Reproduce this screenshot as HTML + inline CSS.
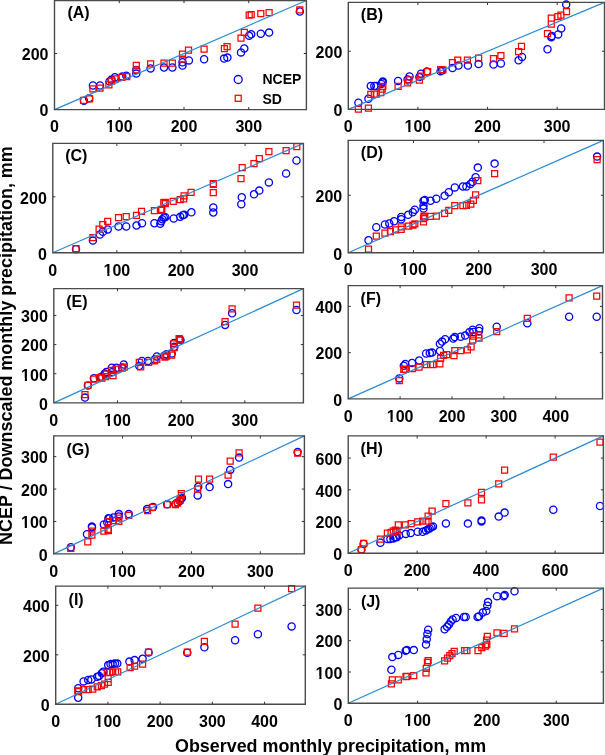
<!DOCTYPE html><html><head><meta charset="utf-8"><style>html,body{margin:0;padding:0;background:#fff;}svg{display:block;will-change:transform;}text{font-family:"Liberation Sans",sans-serif;font-weight:bold;fill:#000;}</style></head><body>
<svg width="605" height="755" viewBox="0 0 605 755">
<rect x="0" y="0" width="605" height="755" fill="#fff"/>
<g><path d="M80.3 100.8a3.6 3.6 0 1 0 7.2 0a3.6 3.6 0 1 0 -7.2 0M85.5 98.2a3.6 3.6 0 1 0 7.2 0a3.6 3.6 0 1 0 -7.2 0M89.3 85.5a3.6 3.6 0 1 0 7.2 0a3.6 3.6 0 1 0 -7.2 0M96.4 85.5a3.6 3.6 0 1 0 7.2 0a3.6 3.6 0 1 0 -7.2 0M105.9 81.5a3.6 3.6 0 1 0 7.2 0a3.6 3.6 0 1 0 -7.2 0M107.9 79.6a3.6 3.6 0 1 0 7.2 0a3.6 3.6 0 1 0 -7.2 0M111.3 77.3a3.6 3.6 0 1 0 7.2 0a3.6 3.6 0 1 0 -7.2 0M118.7 76.6a3.6 3.6 0 1 0 7.2 0a3.6 3.6 0 1 0 -7.2 0M122.7 75.8a3.6 3.6 0 1 0 7.2 0a3.6 3.6 0 1 0 -7.2 0M132.7 69.9a3.6 3.6 0 1 0 7.2 0a3.6 3.6 0 1 0 -7.2 0M132.7 73.6a3.6 3.6 0 1 0 7.2 0a3.6 3.6 0 1 0 -7.2 0M147 68.4a3.6 3.6 0 1 0 7.2 0a3.6 3.6 0 1 0 -7.2 0M160.4 67.5a3.6 3.6 0 1 0 7.2 0a3.6 3.6 0 1 0 -7.2 0M168.8 67.5a3.6 3.6 0 1 0 7.2 0a3.6 3.6 0 1 0 -7.2 0M178.9 65.6a3.6 3.6 0 1 0 7.2 0a3.6 3.6 0 1 0 -7.2 0M178.9 62.3a3.6 3.6 0 1 0 7.2 0a3.6 3.6 0 1 0 -7.2 0M185.3 60.4a3.6 3.6 0 1 0 7.2 0a3.6 3.6 0 1 0 -7.2 0M200.5 59.3a3.6 3.6 0 1 0 7.2 0a3.6 3.6 0 1 0 -7.2 0M220.5 58.6a3.6 3.6 0 1 0 7.2 0a3.6 3.6 0 1 0 -7.2 0M223.8 57.6a3.6 3.6 0 1 0 7.2 0a3.6 3.6 0 1 0 -7.2 0M237.4 52.4a3.6 3.6 0 1 0 7.2 0a3.6 3.6 0 1 0 -7.2 0M240.7 48.5a3.6 3.6 0 1 0 7.2 0a3.6 3.6 0 1 0 -7.2 0M245.6 35.8a3.6 3.6 0 1 0 7.2 0a3.6 3.6 0 1 0 -7.2 0M247.6 34.3a3.6 3.6 0 1 0 7.2 0a3.6 3.6 0 1 0 -7.2 0M257.2 33.8a3.6 3.6 0 1 0 7.2 0a3.6 3.6 0 1 0 -7.2 0M265.5 32.6a3.6 3.6 0 1 0 7.2 0a3.6 3.6 0 1 0 -7.2 0M296.2 11.5a3.6 3.6 0 1 0 7.2 0a3.6 3.6 0 1 0 -7.2 0" fill="none" stroke="#0000ff" stroke-width="1.3"/><path d="M80.6 97.4h6v6h-6zM86.6 95.9h6v6h-6zM89.9 85.9h6v6h-6zM97 85h6v6h-6zM105.9 81.8h6v6h-6zM108.5 78h6v6h-6zM112.2 75.8h6v6h-6zM118.9 74.3h6v6h-6zM123.8 73.6h6v6h-6zM133.3 62.4h6v6h-6zM133.3 66.9h6v6h-6zM147.6 60.9h6v6h-6zM161 60.1h6v6h-6zM169.4 60.1h6v6h-6zM179.5 56h6v6h-6zM179.5 51.1h6v6h-6zM185.5 47.1h6v6h-6zM201.1 46.2h6v6h-6zM221.4 45.7h6v6h-6zM224.1 43.5h6v6h-6zM238 35.2h6v6h-6zM241.3 29.3h6v6h-6zM246.2 12.1h6v6h-6zM248.2 11.7h6v6h-6zM257.8 10.7h6v6h-6zM266.1 9.7h6v6h-6zM296.8 6.8h6v6h-6z" fill="none" stroke="#ff0000" stroke-width="1.25"/><line x1="54.5" y1="109.6" x2="306.4" y2="0.5" stroke="#2c8ad2" stroke-width="1.2"/><path d="M54.5 0.5H306.4V109.6H54.5Z" stroke="#4a4a4a" stroke-width="1.4" fill="none"/><path d="M119.26 109.6v-2.6M119.26 0.5v2.6M184.01 109.6v-2.6M184.01 0.5v2.6M248.77 109.6v-2.6M248.77 0.5v2.6M54.5 53.51h2.6M306.4 53.51h-2.6" stroke="#333" stroke-width="1" fill="none"/><text x="54.5" y="132.3" font-size="16" text-anchor="middle">0</text><text x="119.26" y="132.3" font-size="16" text-anchor="middle">100</text><rect x="106.42" y="129.77" width="3.23" height="3.23" fill="#fff"/><rect x="111.84" y="129.77" width="3.02" height="3.23" fill="#fff"/><text x="184.01" y="132.3" font-size="16" text-anchor="middle">200</text><text x="248.77" y="132.3" font-size="16" text-anchor="middle">300</text><text x="48.5" y="116.4" font-size="16" text-anchor="end">0</text><text x="48.5" y="60.31" font-size="16" text-anchor="end">200</text><text x="67.4" y="17.9" font-size="16">(A)</text></g>
<g><path d="M354.8 102.7a3.6 3.6 0 1 0 7.2 0a3.6 3.6 0 1 0 -7.2 0M364.8 98.8a3.6 3.6 0 1 0 7.2 0a3.6 3.6 0 1 0 -7.2 0M367.2 85.9a3.6 3.6 0 1 0 7.2 0a3.6 3.6 0 1 0 -7.2 0M370.7 85.9a3.6 3.6 0 1 0 7.2 0a3.6 3.6 0 1 0 -7.2 0M372.7 85.9a3.6 3.6 0 1 0 7.2 0a3.6 3.6 0 1 0 -7.2 0M377.7 83.9a3.6 3.6 0 1 0 7.2 0a3.6 3.6 0 1 0 -7.2 0M378.7 82.4a3.6 3.6 0 1 0 7.2 0a3.6 3.6 0 1 0 -7.2 0M379.2 81.4a3.6 3.6 0 1 0 7.2 0a3.6 3.6 0 1 0 -7.2 0M394.5 80.9a3.6 3.6 0 1 0 7.2 0a3.6 3.6 0 1 0 -7.2 0M404 79.4a3.6 3.6 0 1 0 7.2 0a3.6 3.6 0 1 0 -7.2 0M405.9 76.4a3.6 3.6 0 1 0 7.2 0a3.6 3.6 0 1 0 -7.2 0M415.8 77.1a3.6 3.6 0 1 0 7.2 0a3.6 3.6 0 1 0 -7.2 0M417.3 73.7a3.6 3.6 0 1 0 7.2 0a3.6 3.6 0 1 0 -7.2 0M423.2 71.6a3.6 3.6 0 1 0 7.2 0a3.6 3.6 0 1 0 -7.2 0M437 71.2a3.6 3.6 0 1 0 7.2 0a3.6 3.6 0 1 0 -7.2 0M438.5 70.5a3.6 3.6 0 1 0 7.2 0a3.6 3.6 0 1 0 -7.2 0M448.9 68a3.6 3.6 0 1 0 7.2 0a3.6 3.6 0 1 0 -7.2 0M454.9 65.6a3.6 3.6 0 1 0 7.2 0a3.6 3.6 0 1 0 -7.2 0M464.3 65.6a3.6 3.6 0 1 0 7.2 0a3.6 3.6 0 1 0 -7.2 0M475 64.1a3.6 3.6 0 1 0 7.2 0a3.6 3.6 0 1 0 -7.2 0M489.9 64.6a3.6 3.6 0 1 0 7.2 0a3.6 3.6 0 1 0 -7.2 0M497.3 63.5a3.6 3.6 0 1 0 7.2 0a3.6 3.6 0 1 0 -7.2 0M515 60.3a3.6 3.6 0 1 0 7.2 0a3.6 3.6 0 1 0 -7.2 0M518.4 57a3.6 3.6 0 1 0 7.2 0a3.6 3.6 0 1 0 -7.2 0M543.9 49.3a3.6 3.6 0 1 0 7.2 0a3.6 3.6 0 1 0 -7.2 0M547.7 37.2a3.6 3.6 0 1 0 7.2 0a3.6 3.6 0 1 0 -7.2 0M548.2 36a3.6 3.6 0 1 0 7.2 0a3.6 3.6 0 1 0 -7.2 0M554.6 34.4a3.6 3.6 0 1 0 7.2 0a3.6 3.6 0 1 0 -7.2 0M557.6 28.4a3.6 3.6 0 1 0 7.2 0a3.6 3.6 0 1 0 -7.2 0M562.6 4.6a3.6 3.6 0 1 0 7.2 0a3.6 3.6 0 1 0 -7.2 0" fill="none" stroke="#0000ff" stroke-width="1.3"/><path d="M355.4 106.2h6v6h-6zM365.4 105.2h6v6h-6zM367.8 91.3h6v6h-6zM371.3 91h6v6h-6zM373.3 91h6v6h-6zM377.8 89.6h6v6h-6zM379.3 86h6v6h-6zM379.8 83.4h6v6h-6zM395.1 83.4h6v6h-6zM404.6 79.9h6v6h-6zM406 76.9h6v6h-6zM416.4 77.1h6v6h-6zM417.9 73.1h6v6h-6zM424.6 68.6h6v6h-6zM437.6 66.5h6v6h-6zM439.9 66.8h6v6h-6zM449.5 59.6h6v6h-6zM454.7 57.1h6v6h-6zM464.4 57.1h6v6h-6zM475.6 55.2h6v6h-6zM490.5 55.6h6v6h-6zM497.9 52.6h6v6h-6zM515.6 48.6h6v6h-6zM518.5 43.3h6v6h-6zM544.5 30.6h6v6h-6zM548.3 21h6v6h-6zM548.3 15.2h6v6h-6zM554.9 13.5h6v6h-6zM557.9 12.2h6v6h-6zM563.5 8.6h6v6h-6z" fill="none" stroke="#ff0000" stroke-width="1.25"/><line x1="348.3" y1="109.4" x2="604.5" y2="2.4" stroke="#2c8ad2" stroke-width="1.2"/><path d="M348.3 2.4H604.5V109.4H348.3Z" stroke="#4a4a4a" stroke-width="1.4" fill="none"/><path d="M417.92 109.4v-2.6M417.92 2.4v2.6M487.54 109.4v-2.6M487.54 2.4v2.6M557.16 109.4v-2.6M557.16 2.4v2.6M348.3 51.25h2.6M604.5 51.25h-2.6" stroke="#333" stroke-width="1" fill="none"/><text x="348.3" y="132.1" font-size="16" text-anchor="middle">0</text><text x="417.92" y="132.1" font-size="16" text-anchor="middle">100</text><rect x="405.08" y="129.57" width="3.23" height="3.23" fill="#fff"/><rect x="410.50" y="129.57" width="3.02" height="3.23" fill="#fff"/><text x="487.54" y="132.1" font-size="16" text-anchor="middle">200</text><text x="557.16" y="132.1" font-size="16" text-anchor="middle">300</text><text x="342.3" y="116.2" font-size="16" text-anchor="end">0</text><text x="342.3" y="58.05" font-size="16" text-anchor="end">200</text><text x="360.8" y="19.6" font-size="16">(B)</text></g>
<g><path d="M72.4 249.2a3.6 3.6 0 1 0 7.2 0a3.6 3.6 0 1 0 -7.2 0M89.3 240.6a3.6 3.6 0 1 0 7.2 0a3.6 3.6 0 1 0 -7.2 0M96.3 234.6a3.6 3.6 0 1 0 7.2 0a3.6 3.6 0 1 0 -7.2 0M99.2 231.7a3.6 3.6 0 1 0 7.2 0a3.6 3.6 0 1 0 -7.2 0M104.1 229.4a3.6 3.6 0 1 0 7.2 0a3.6 3.6 0 1 0 -7.2 0M114.9 226.5a3.6 3.6 0 1 0 7.2 0a3.6 3.6 0 1 0 -7.2 0M122.6 226.5a3.6 3.6 0 1 0 7.2 0a3.6 3.6 0 1 0 -7.2 0M132.9 225.5a3.6 3.6 0 1 0 7.2 0a3.6 3.6 0 1 0 -7.2 0M138.4 223.2a3.6 3.6 0 1 0 7.2 0a3.6 3.6 0 1 0 -7.2 0M150.8 223.2a3.6 3.6 0 1 0 7.2 0a3.6 3.6 0 1 0 -7.2 0M156.7 223.7a3.6 3.6 0 1 0 7.2 0a3.6 3.6 0 1 0 -7.2 0M157.7 221.2a3.6 3.6 0 1 0 7.2 0a3.6 3.6 0 1 0 -7.2 0M158.7 219.2a3.6 3.6 0 1 0 7.2 0a3.6 3.6 0 1 0 -7.2 0M160.2 217.7a3.6 3.6 0 1 0 7.2 0a3.6 3.6 0 1 0 -7.2 0M161.7 217.2a3.6 3.6 0 1 0 7.2 0a3.6 3.6 0 1 0 -7.2 0M170.1 218.5a3.6 3.6 0 1 0 7.2 0a3.6 3.6 0 1 0 -7.2 0M176.6 216.7a3.6 3.6 0 1 0 7.2 0a3.6 3.6 0 1 0 -7.2 0M179.1 215.3a3.6 3.6 0 1 0 7.2 0a3.6 3.6 0 1 0 -7.2 0M180.5 214.8a3.6 3.6 0 1 0 7.2 0a3.6 3.6 0 1 0 -7.2 0M187.8 212.3a3.6 3.6 0 1 0 7.2 0a3.6 3.6 0 1 0 -7.2 0M209.7 212.5a3.6 3.6 0 1 0 7.2 0a3.6 3.6 0 1 0 -7.2 0M209.7 207.4a3.6 3.6 0 1 0 7.2 0a3.6 3.6 0 1 0 -7.2 0M237.7 204.3a3.6 3.6 0 1 0 7.2 0a3.6 3.6 0 1 0 -7.2 0M238.2 197.3a3.6 3.6 0 1 0 7.2 0a3.6 3.6 0 1 0 -7.2 0M250.4 194.3a3.6 3.6 0 1 0 7.2 0a3.6 3.6 0 1 0 -7.2 0M255.7 190.6a3.6 3.6 0 1 0 7.2 0a3.6 3.6 0 1 0 -7.2 0M265.3 182.4a3.6 3.6 0 1 0 7.2 0a3.6 3.6 0 1 0 -7.2 0M282.5 173.5a3.6 3.6 0 1 0 7.2 0a3.6 3.6 0 1 0 -7.2 0M292.9 160.5a3.6 3.6 0 1 0 7.2 0a3.6 3.6 0 1 0 -7.2 0" fill="none" stroke="#0000ff" stroke-width="1.3"/><path d="M73 245.5h6v6h-6zM89.9 234.6h6v6h-6zM96.1 226h6v6h-6zM99.8 221.5h6v6h-6zM104.7 218.3h6v6h-6zM115.5 214.5h6v6h-6zM123.2 213.5h6v6h-6zM133.5 212.4h6v6h-6zM138.5 208.3h6v6h-6zM151.4 207.6h6v6h-6zM157.8 207.3h6v6h-6zM158.8 206.3h6v6h-6zM160.8 199.7h6v6h-6zM162.3 199.4h6v6h-6zM162.3 200.5h6v6h-6zM170.2 198.4h6v6h-6zM177.2 196.7h6v6h-6zM180.7 195.9h6v6h-6zM181.1 192.9h6v6h-6zM188.1 189.4h6v6h-6zM210.3 189.6h6v6h-6zM210.3 180.6h6v6h-6zM210.3 181.4h6v6h-6zM238 175.7h6v6h-6zM239.2 164.5h6v6h-6zM251 160.5h6v6h-6zM256.3 155.6h6v6h-6zM265.9 148.6h6v6h-6zM283.1 147.7h6v6h-6zM293.8 143.7h6v6h-6z" fill="none" stroke="#ff0000" stroke-width="1.25"/><line x1="52.8" y1="252.8" x2="303.4" y2="143.4" stroke="#2c8ad2" stroke-width="1.2"/><path d="M52.8 143.4H303.4V252.8H52.8Z" stroke="#4a4a4a" stroke-width="1.4" fill="none"/><path d="M116.89 252.8v-2.6M116.89 143.4v2.6M180.98 252.8v-2.6M180.98 143.4v2.6M245.08 252.8v-2.6M245.08 143.4v2.6M52.8 196.84h2.6M303.4 196.84h-2.6" stroke="#333" stroke-width="1" fill="none"/><text x="52.8" y="275.5" font-size="16" text-anchor="middle">0</text><text x="116.89" y="275.5" font-size="16" text-anchor="middle">100</text><rect x="104.05" y="272.97" width="3.23" height="3.23" fill="#fff"/><rect x="109.47" y="272.97" width="3.02" height="3.23" fill="#fff"/><text x="180.98" y="275.5" font-size="16" text-anchor="middle">200</text><text x="245.08" y="275.5" font-size="16" text-anchor="middle">300</text><text x="46.8" y="259.6" font-size="16" text-anchor="end">0</text><text x="46.8" y="203.64" font-size="16" text-anchor="end">200</text><text x="65.2" y="160.8" font-size="16">(C)</text></g>
<g><path d="M364.9 240.3a3.6 3.6 0 1 0 7.2 0a3.6 3.6 0 1 0 -7.2 0M372.7 227.2a3.6 3.6 0 1 0 7.2 0a3.6 3.6 0 1 0 -7.2 0M381.3 224.5a3.6 3.6 0 1 0 7.2 0a3.6 3.6 0 1 0 -7.2 0M385.7 223.5a3.6 3.6 0 1 0 7.2 0a3.6 3.6 0 1 0 -7.2 0M390.5 221.3a3.6 3.6 0 1 0 7.2 0a3.6 3.6 0 1 0 -7.2 0M397.6 219.3a3.6 3.6 0 1 0 7.2 0a3.6 3.6 0 1 0 -7.2 0M397.6 216.9a3.6 3.6 0 1 0 7.2 0a3.6 3.6 0 1 0 -7.2 0M404.6 214.8a3.6 3.6 0 1 0 7.2 0a3.6 3.6 0 1 0 -7.2 0M409.2 212.3a3.6 3.6 0 1 0 7.2 0a3.6 3.6 0 1 0 -7.2 0M411.2 209.8a3.6 3.6 0 1 0 7.2 0a3.6 3.6 0 1 0 -7.2 0M419.9 208.6a3.6 3.6 0 1 0 7.2 0a3.6 3.6 0 1 0 -7.2 0M419.9 205.7a3.6 3.6 0 1 0 7.2 0a3.6 3.6 0 1 0 -7.2 0M419.9 200.7a3.6 3.6 0 1 0 7.2 0a3.6 3.6 0 1 0 -7.2 0M421.2 199.9a3.6 3.6 0 1 0 7.2 0a3.6 3.6 0 1 0 -7.2 0M426.9 200.7a3.6 3.6 0 1 0 7.2 0a3.6 3.6 0 1 0 -7.2 0M432.7 198.7a3.6 3.6 0 1 0 7.2 0a3.6 3.6 0 1 0 -7.2 0M441 195.8a3.6 3.6 0 1 0 7.2 0a3.6 3.6 0 1 0 -7.2 0M445.2 192.2a3.6 3.6 0 1 0 7.2 0a3.6 3.6 0 1 0 -7.2 0M451.2 187.4a3.6 3.6 0 1 0 7.2 0a3.6 3.6 0 1 0 -7.2 0M459.3 186.5a3.6 3.6 0 1 0 7.2 0a3.6 3.6 0 1 0 -7.2 0M462.8 186.5a3.6 3.6 0 1 0 7.2 0a3.6 3.6 0 1 0 -7.2 0M466.8 184a3.6 3.6 0 1 0 7.2 0a3.6 3.6 0 1 0 -7.2 0M469 181.8a3.6 3.6 0 1 0 7.2 0a3.6 3.6 0 1 0 -7.2 0M472 177.3a3.6 3.6 0 1 0 7.2 0a3.6 3.6 0 1 0 -7.2 0M474.2 167.6a3.6 3.6 0 1 0 7.2 0a3.6 3.6 0 1 0 -7.2 0M491 163.6a3.6 3.6 0 1 0 7.2 0a3.6 3.6 0 1 0 -7.2 0M593.5 156.6a3.6 3.6 0 1 0 7.2 0a3.6 3.6 0 1 0 -7.2 0" fill="none" stroke="#0000ff" stroke-width="1.3"/><path d="M365.5 246.2h6v6h-6zM373.3 233.1h6v6h-6zM381.9 230.2h6v6h-6zM387.4 228.7h6v6h-6zM392.6 226.9h6v6h-6zM398.2 226.3h6v6h-6zM398.2 223.8h6v6h-6zM405.6 223h6v6h-6zM410 222h6v6h-6zM411.8 220.9h6v6h-6zM420.5 218.8h6v6h-6zM420.5 215.5h6v6h-6zM420.9 213h6v6h-6zM421.8 214h6v6h-6zM427.5 213.4h6v6h-6zM433.3 213h6v6h-6zM441.6 210.3h6v6h-6zM445.8 207.4h6v6h-6zM451.8 202.6h6v6h-6zM459.9 202.6h6v6h-6zM463.4 202.3h6v6h-6zM467.8 201.1h6v6h-6zM470.4 197.4h6v6h-6zM472.6 191.9h6v6h-6zM474.8 177.6h6v6h-6zM491.6 170.6h6v6h-6zM594.1 156.6h6v6h-6z" fill="none" stroke="#ff0000" stroke-width="1.25"/><line x1="348.2" y1="252.7" x2="603.4" y2="140.4" stroke="#2c8ad2" stroke-width="1.2"/><path d="M348.2 140.4H603.4V252.7H348.2Z" stroke="#4a4a4a" stroke-width="1.4" fill="none"/><path d="M413.47 252.7v-2.6M413.47 140.4v2.6M478.74 252.7v-2.6M478.74 140.4v2.6M544.01 252.7v-2.6M544.01 140.4v2.6M348.2 195.26h2.6M603.4 195.26h-2.6" stroke="#333" stroke-width="1" fill="none"/><text x="348.2" y="275.4" font-size="16" text-anchor="middle">0</text><text x="413.47" y="275.4" font-size="16" text-anchor="middle">100</text><rect x="400.63" y="272.87" width="3.23" height="3.23" fill="#fff"/><rect x="406.05" y="272.87" width="3.02" height="3.23" fill="#fff"/><text x="478.74" y="275.4" font-size="16" text-anchor="middle">200</text><text x="544.01" y="275.4" font-size="16" text-anchor="middle">300</text><text x="342.2" y="259.5" font-size="16" text-anchor="end">0</text><text x="342.2" y="202.06" font-size="16" text-anchor="end">200</text><text x="360.8" y="158.1" font-size="16">(D)</text></g>
<g><path d="M81.4 397.6a3.6 3.6 0 1 0 7.2 0a3.6 3.6 0 1 0 -7.2 0M84.3 385.4a3.6 3.6 0 1 0 7.2 0a3.6 3.6 0 1 0 -7.2 0M90.3 378.3a3.6 3.6 0 1 0 7.2 0a3.6 3.6 0 1 0 -7.2 0M96.2 377.5a3.6 3.6 0 1 0 7.2 0a3.6 3.6 0 1 0 -7.2 0M97.9 376.7a3.6 3.6 0 1 0 7.2 0a3.6 3.6 0 1 0 -7.2 0M101.2 373.6a3.6 3.6 0 1 0 7.2 0a3.6 3.6 0 1 0 -7.2 0M102.8 371.9a3.6 3.6 0 1 0 7.2 0a3.6 3.6 0 1 0 -7.2 0M108.2 367.8a3.6 3.6 0 1 0 7.2 0a3.6 3.6 0 1 0 -7.2 0M109 371.9a3.6 3.6 0 1 0 7.2 0a3.6 3.6 0 1 0 -7.2 0M112.8 367.8a3.6 3.6 0 1 0 7.2 0a3.6 3.6 0 1 0 -7.2 0M118.5 367.4a3.6 3.6 0 1 0 7.2 0a3.6 3.6 0 1 0 -7.2 0M120.2 364.5a3.6 3.6 0 1 0 7.2 0a3.6 3.6 0 1 0 -7.2 0M135.7 366a3.6 3.6 0 1 0 7.2 0a3.6 3.6 0 1 0 -7.2 0M138.3 360.9a3.6 3.6 0 1 0 7.2 0a3.6 3.6 0 1 0 -7.2 0M144.3 360.9a3.6 3.6 0 1 0 7.2 0a3.6 3.6 0 1 0 -7.2 0M151 359.4a3.6 3.6 0 1 0 7.2 0a3.6 3.6 0 1 0 -7.2 0M153.2 356.5a3.6 3.6 0 1 0 7.2 0a3.6 3.6 0 1 0 -7.2 0M160.6 355.7a3.6 3.6 0 1 0 7.2 0a3.6 3.6 0 1 0 -7.2 0M162.9 354.2a3.6 3.6 0 1 0 7.2 0a3.6 3.6 0 1 0 -7.2 0M168.1 353.5a3.6 3.6 0 1 0 7.2 0a3.6 3.6 0 1 0 -7.2 0M170.7 346.8a3.6 3.6 0 1 0 7.2 0a3.6 3.6 0 1 0 -7.2 0M170.3 343.1a3.6 3.6 0 1 0 7.2 0a3.6 3.6 0 1 0 -7.2 0M176.3 339.3a3.6 3.6 0 1 0 7.2 0a3.6 3.6 0 1 0 -7.2 0M176.9 340a3.6 3.6 0 1 0 7.2 0a3.6 3.6 0 1 0 -7.2 0M221.5 324.9a3.6 3.6 0 1 0 7.2 0a3.6 3.6 0 1 0 -7.2 0M228.5 313.3a3.6 3.6 0 1 0 7.2 0a3.6 3.6 0 1 0 -7.2 0M292.9 310a3.6 3.6 0 1 0 7.2 0a3.6 3.6 0 1 0 -7.2 0" fill="none" stroke="#0000ff" stroke-width="1.3"/><path d="M82 391.5h6v6h-6zM84.9 382.4h6v6h-6zM90.9 376.1h6v6h-6zM96.8 374.7h6v6h-6zM98.9 375.1h6v6h-6zM102.6 373.5h6v6h-6zM103.4 371h6v6h-6zM108.8 367.3h6v6h-6zM110 372.7h6v6h-6zM113.4 366h6v6h-6zM119.1 365.2h6v6h-6zM121.2 364h6v6h-6zM136.3 359.3h6v6h-6zM137.7 363.9h6v6h-6zM145.6 359.4h6v6h-6zM151.6 357.9h6v6h-6zM153.8 356.4h6v6h-6zM162 354.2h6v6h-6zM163.5 353h6v6h-6zM168.7 352h6v6h-6zM171.3 344.5h6v6h-6zM170.9 340.8h6v6h-6zM176.1 335.6h6v6h-6zM177 337h6v6h-6zM222.1 318.5h6v6h-6zM229.1 305.8h6v6h-6zM293.5 302.1h6v6h-6z" fill="none" stroke="#ff0000" stroke-width="1.25"/><line x1="53.8" y1="402.9" x2="303.4" y2="288.6" stroke="#2c8ad2" stroke-width="1.2"/><path d="M53.8 288.6H303.4V402.9H53.8Z" stroke="#4a4a4a" stroke-width="1.4" fill="none"/><path d="M117.47 402.9v-2.6M117.47 288.6v2.6M181.15 402.9v-2.6M181.15 288.6v2.6M244.82 402.9v-2.6M244.82 288.6v2.6M53.8 373.74h2.6M303.4 373.74h-2.6M53.8 344.58h2.6M303.4 344.58h-2.6M53.8 315.43h2.6M303.4 315.43h-2.6" stroke="#333" stroke-width="1" fill="none"/><text x="53.8" y="425.6" font-size="16" text-anchor="middle">0</text><text x="117.47" y="425.6" font-size="16" text-anchor="middle">100</text><rect x="104.63" y="423.07" width="3.23" height="3.23" fill="#fff"/><rect x="110.06" y="423.07" width="3.02" height="3.23" fill="#fff"/><text x="181.15" y="425.6" font-size="16" text-anchor="middle">200</text><text x="244.82" y="425.6" font-size="16" text-anchor="middle">300</text><text x="47.8" y="409.7" font-size="16" text-anchor="end">0</text><text x="47.8" y="380.54" font-size="16" text-anchor="end">100</text><rect x="21.61" y="378.01" width="3.23" height="3.23" fill="#fff"/><rect x="27.03" y="378.01" width="3.02" height="3.23" fill="#fff"/><text x="47.8" y="351.38" font-size="16" text-anchor="end">200</text><text x="47.8" y="322.23" font-size="16" text-anchor="end">300</text><text x="66.2" y="306.5" font-size="16">(E)</text></g>
<g><path d="M395.7 378.4a3.6 3.6 0 1 0 7.2 0a3.6 3.6 0 1 0 -7.2 0M400.2 365.7a3.6 3.6 0 1 0 7.2 0a3.6 3.6 0 1 0 -7.2 0M401.7 363.9a3.6 3.6 0 1 0 7.2 0a3.6 3.6 0 1 0 -7.2 0M408.4 363a3.6 3.6 0 1 0 7.2 0a3.6 3.6 0 1 0 -7.2 0M415.5 360.5a3.6 3.6 0 1 0 7.2 0a3.6 3.6 0 1 0 -7.2 0M422.5 353.5a3.6 3.6 0 1 0 7.2 0a3.6 3.6 0 1 0 -7.2 0M426.2 353.1a3.6 3.6 0 1 0 7.2 0a3.6 3.6 0 1 0 -7.2 0M428.4 352.6a3.6 3.6 0 1 0 7.2 0a3.6 3.6 0 1 0 -7.2 0M436.3 351a3.6 3.6 0 1 0 7.2 0a3.6 3.6 0 1 0 -7.2 0M436.3 343.8a3.6 3.6 0 1 0 7.2 0a3.6 3.6 0 1 0 -7.2 0M438.5 341.6a3.6 3.6 0 1 0 7.2 0a3.6 3.6 0 1 0 -7.2 0M441.5 339.3a3.6 3.6 0 1 0 7.2 0a3.6 3.6 0 1 0 -7.2 0M449.7 338.6a3.6 3.6 0 1 0 7.2 0a3.6 3.6 0 1 0 -7.2 0M451.2 337.1a3.6 3.6 0 1 0 7.2 0a3.6 3.6 0 1 0 -7.2 0M457.1 336.7a3.6 3.6 0 1 0 7.2 0a3.6 3.6 0 1 0 -7.2 0M461.6 335.6a3.6 3.6 0 1 0 7.2 0a3.6 3.6 0 1 0 -7.2 0M466 331.9a3.6 3.6 0 1 0 7.2 0a3.6 3.6 0 1 0 -7.2 0M469 329.7a3.6 3.6 0 1 0 7.2 0a3.6 3.6 0 1 0 -7.2 0M469.8 332a3.6 3.6 0 1 0 7.2 0a3.6 3.6 0 1 0 -7.2 0M475.7 328.2a3.6 3.6 0 1 0 7.2 0a3.6 3.6 0 1 0 -7.2 0M475.4 331a3.6 3.6 0 1 0 7.2 0a3.6 3.6 0 1 0 -7.2 0M493.1 326.7a3.6 3.6 0 1 0 7.2 0a3.6 3.6 0 1 0 -7.2 0M523.7 323.3a3.6 3.6 0 1 0 7.2 0a3.6 3.6 0 1 0 -7.2 0M565.5 316.7a3.6 3.6 0 1 0 7.2 0a3.6 3.6 0 1 0 -7.2 0M593.1 316.7a3.6 3.6 0 1 0 7.2 0a3.6 3.6 0 1 0 -7.2 0" fill="none" stroke="#0000ff" stroke-width="1.3"/><path d="M396.3 377.6h6v6h-6zM400.8 366.4h6v6h-6zM402.3 366h6v6h-6zM409.3 365.7h6v6h-6zM416.1 364.2h6v6h-6zM423.5 361.5h6v6h-6zM427.6 361.5h6v6h-6zM430 361.5h6v6h-6zM436.9 360.9h6v6h-6zM437.6 355.4h6v6h-6zM440.6 352.4h6v6h-6zM443.6 351.5h6v6h-6zM451 352.7h6v6h-6zM451.8 347.5h6v6h-6zM457.7 347.5h6v6h-6zM464.4 346.8h6v6h-6zM468.1 343.8h6v6h-6zM469.6 337.1h6v6h-6zM470.4 333.1h6v6h-6zM475.6 331.9h6v6h-6zM476 335h6v6h-6zM493.7 328.6h6v6h-6zM524.3 315.4h6v6h-6zM566.1 294.9h6v6h-6zM593.7 293.2h6v6h-6z" fill="none" stroke="#ff0000" stroke-width="1.25"/><line x1="348.2" y1="398.9" x2="602.5" y2="285.6" stroke="#2c8ad2" stroke-width="1.2"/><path d="M348.2 285.6H602.5V398.9H348.2Z" stroke="#4a4a4a" stroke-width="1.4" fill="none"/><path d="M400.1 398.9v-2.6M400.1 285.6v2.6M452 398.9v-2.6M452 285.6v2.6M503.89 398.9v-2.6M503.89 285.6v2.6M555.79 398.9v-2.6M555.79 285.6v2.6M348.2 352.66h2.6M602.5 352.66h-2.6M348.2 306.41h2.6M602.5 306.41h-2.6" stroke="#333" stroke-width="1" fill="none"/><text x="348.2" y="421.6" font-size="16" text-anchor="middle">0</text><text x="400.1" y="421.6" font-size="16" text-anchor="middle">100</text><rect x="387.26" y="419.07" width="3.23" height="3.23" fill="#fff"/><rect x="392.68" y="419.07" width="3.02" height="3.23" fill="#fff"/><text x="452" y="421.6" font-size="16" text-anchor="middle">200</text><text x="503.89" y="421.6" font-size="16" text-anchor="middle">300</text><text x="555.79" y="421.6" font-size="16" text-anchor="middle">400</text><text x="342.2" y="405.7" font-size="16" text-anchor="end">0</text><text x="342.2" y="359.46" font-size="16" text-anchor="end">200</text><text x="342.2" y="313.21" font-size="16" text-anchor="end">400</text><text x="360.6" y="303.5" font-size="16">(F)</text></g>
<g><path d="M67.2 547.3a3.6 3.6 0 1 0 7.2 0a3.6 3.6 0 1 0 -7.2 0M83.4 534.3a3.6 3.6 0 1 0 7.2 0a3.6 3.6 0 1 0 -7.2 0M88.3 526.5a3.6 3.6 0 1 0 7.2 0a3.6 3.6 0 1 0 -7.2 0M88.4 527.5a3.6 3.6 0 1 0 7.2 0a3.6 3.6 0 1 0 -7.2 0M100.3 524.4a3.6 3.6 0 1 0 7.2 0a3.6 3.6 0 1 0 -7.2 0M103.7 522.4a3.6 3.6 0 1 0 7.2 0a3.6 3.6 0 1 0 -7.2 0M104.8 518.2a3.6 3.6 0 1 0 7.2 0a3.6 3.6 0 1 0 -7.2 0M105.9 518.5a3.6 3.6 0 1 0 7.2 0a3.6 3.6 0 1 0 -7.2 0M109.8 517.4a3.6 3.6 0 1 0 7.2 0a3.6 3.6 0 1 0 -7.2 0M115.2 514.1a3.6 3.6 0 1 0 7.2 0a3.6 3.6 0 1 0 -7.2 0M115.15 516.5a3.6 3.6 0 1 0 7.2 0a3.6 3.6 0 1 0 -7.2 0M125.1 514.1a3.6 3.6 0 1 0 7.2 0a3.6 3.6 0 1 0 -7.2 0M143.5 509.1a3.6 3.6 0 1 0 7.2 0a3.6 3.6 0 1 0 -7.2 0M149.5 506.9a3.6 3.6 0 1 0 7.2 0a3.6 3.6 0 1 0 -7.2 0M163.6 504.3a3.6 3.6 0 1 0 7.2 0a3.6 3.6 0 1 0 -7.2 0M171.8 503.9a3.6 3.6 0 1 0 7.2 0a3.6 3.6 0 1 0 -7.2 0M174 502.4a3.6 3.6 0 1 0 7.2 0a3.6 3.6 0 1 0 -7.2 0M176.3 500.9a3.6 3.6 0 1 0 7.2 0a3.6 3.6 0 1 0 -7.2 0M177.7 498.7a3.6 3.6 0 1 0 7.2 0a3.6 3.6 0 1 0 -7.2 0M178.4 498a3.6 3.6 0 1 0 7.2 0a3.6 3.6 0 1 0 -7.2 0M194.1 495.4a3.6 3.6 0 1 0 7.2 0a3.6 3.6 0 1 0 -7.2 0M194.6 486.8a3.6 3.6 0 1 0 7.2 0a3.6 3.6 0 1 0 -7.2 0M206 487.1a3.6 3.6 0 1 0 7.2 0a3.6 3.6 0 1 0 -7.2 0M224.5 484.1a3.6 3.6 0 1 0 7.2 0a3.6 3.6 0 1 0 -7.2 0M226.6 469.9a3.6 3.6 0 1 0 7.2 0a3.6 3.6 0 1 0 -7.2 0M235.5 457.6a3.6 3.6 0 1 0 7.2 0a3.6 3.6 0 1 0 -7.2 0M294 452.1a3.6 3.6 0 1 0 7.2 0a3.6 3.6 0 1 0 -7.2 0" fill="none" stroke="#0000ff" stroke-width="1.3"/><path d="M67.8 545.3h6v6h-6zM84.8 538.8h6v6h-6zM88.9 532.2h6v6h-6zM88.9 528h6v6h-6zM100.9 528h6v6h-6zM105 526.4h6v6h-6zM105.4 527.6h6v6h-6zM105.4 518.5h6v6h-6zM110.4 517.7h6v6h-6zM115.8 515.2h6v6h-6zM115.8 518.3h6v6h-6zM125.7 512.3h6v6h-6zM144.6 507.6h6v6h-6zM149.3 504.3h6v6h-6zM164.2 501.6h6v6h-6zM172.4 501.5h6v6h-6zM174.6 500h6v6h-6zM176.9 497.2h6v6h-6zM178.3 492.7h6v6h-6zM178.3 490.5h6v6h-6zM194.7 486h6v6h-6zM195.5 476h6v6h-6zM206.6 476h6v6h-6zM225.1 472.2h6v6h-6zM227.2 458h6v6h-6zM236.1 449.8h6v6h-6zM294.6 450.1h6v6h-6z" fill="none" stroke="#ff0000" stroke-width="1.25"/><line x1="53.7" y1="553.9" x2="304.4" y2="435.9" stroke="#2c8ad2" stroke-width="1.2"/><path d="M53.7 435.9H304.4V553.9H53.7Z" stroke="#4a4a4a" stroke-width="1.4" fill="none"/><path d="M122.57 553.9v-2.6M122.57 435.9v2.6M191.45 553.9v-2.6M191.45 435.9v2.6M260.32 553.9v-2.6M260.32 435.9v2.6M53.7 521.48h2.6M304.4 521.48h-2.6M53.7 489.06h2.6M304.4 489.06h-2.6M53.7 456.65h2.6M304.4 456.65h-2.6" stroke="#333" stroke-width="1" fill="none"/><text x="53.7" y="576.6" font-size="16" text-anchor="middle">0</text><text x="122.57" y="576.6" font-size="16" text-anchor="middle">100</text><rect x="109.73" y="574.07" width="3.23" height="3.23" fill="#fff"/><rect x="115.16" y="574.07" width="3.02" height="3.23" fill="#fff"/><text x="191.45" y="576.6" font-size="16" text-anchor="middle">200</text><text x="260.32" y="576.6" font-size="16" text-anchor="middle">300</text><text x="47.7" y="560.7" font-size="16" text-anchor="end">0</text><text x="47.7" y="528.28" font-size="16" text-anchor="end">100</text><rect x="21.51" y="525.75" width="3.23" height="3.23" fill="#fff"/><rect x="26.93" y="525.75" width="3.02" height="3.23" fill="#fff"/><text x="47.7" y="495.86" font-size="16" text-anchor="end">200</text><text x="47.7" y="463.45" font-size="16" text-anchor="end">300</text><text x="66.4" y="454.6" font-size="16">(G)</text></g>
<g><path d="M357.8 549.5a3.6 3.6 0 1 0 7.2 0a3.6 3.6 0 1 0 -7.2 0M360 543.9a3.6 3.6 0 1 0 7.2 0a3.6 3.6 0 1 0 -7.2 0M376.8 542.8a3.6 3.6 0 1 0 7.2 0a3.6 3.6 0 1 0 -7.2 0M383.8 539.1a3.6 3.6 0 1 0 7.2 0a3.6 3.6 0 1 0 -7.2 0M386.8 539.1a3.6 3.6 0 1 0 7.2 0a3.6 3.6 0 1 0 -7.2 0M389.8 538.4a3.6 3.6 0 1 0 7.2 0a3.6 3.6 0 1 0 -7.2 0M392 537.6a3.6 3.6 0 1 0 7.2 0a3.6 3.6 0 1 0 -7.2 0M393.1 537.2a3.6 3.6 0 1 0 7.2 0a3.6 3.6 0 1 0 -7.2 0M395.5 535.5a3.6 3.6 0 1 0 7.2 0a3.6 3.6 0 1 0 -7.2 0M402.1 533.9a3.6 3.6 0 1 0 7.2 0a3.6 3.6 0 1 0 -7.2 0M407.1 533.1a3.6 3.6 0 1 0 7.2 0a3.6 3.6 0 1 0 -7.2 0M414.1 531.8a3.6 3.6 0 1 0 7.2 0a3.6 3.6 0 1 0 -7.2 0M419.1 531.8a3.6 3.6 0 1 0 7.2 0a3.6 3.6 0 1 0 -7.2 0M422.4 530.6a3.6 3.6 0 1 0 7.2 0a3.6 3.6 0 1 0 -7.2 0M424.5 529.3a3.6 3.6 0 1 0 7.2 0a3.6 3.6 0 1 0 -7.2 0M426.1 528.5a3.6 3.6 0 1 0 7.2 0a3.6 3.6 0 1 0 -7.2 0M427.8 527.3a3.6 3.6 0 1 0 7.2 0a3.6 3.6 0 1 0 -7.2 0M429.4 526.4a3.6 3.6 0 1 0 7.2 0a3.6 3.6 0 1 0 -7.2 0M442.3 523.4a3.6 3.6 0 1 0 7.2 0a3.6 3.6 0 1 0 -7.2 0M464.3 523.6a3.6 3.6 0 1 0 7.2 0a3.6 3.6 0 1 0 -7.2 0M477.9 520.4a3.6 3.6 0 1 0 7.2 0a3.6 3.6 0 1 0 -7.2 0M477.9 521.5a3.6 3.6 0 1 0 7.2 0a3.6 3.6 0 1 0 -7.2 0M495.1 516.6a3.6 3.6 0 1 0 7.2 0a3.6 3.6 0 1 0 -7.2 0M501 512.6a3.6 3.6 0 1 0 7.2 0a3.6 3.6 0 1 0 -7.2 0M549.7 509.7a3.6 3.6 0 1 0 7.2 0a3.6 3.6 0 1 0 -7.2 0M596.4 506a3.6 3.6 0 1 0 7.2 0a3.6 3.6 0 1 0 -7.2 0" fill="none" stroke="#0000ff" stroke-width="1.3"/><path d="M358.4 546.5h6v6h-6zM360.6 540.3h6v6h-6zM377.4 536.1h6v6h-6zM384.4 530.2h6v6h-6zM388.1 529.4h6v6h-6zM390.4 527.9h6v6h-6zM392.6 527.2h6v6h-6zM394.1 529.2h6v6h-6zM395.3 521.8h6v6h-6zM402.3 521.8h6v6h-6zM408.1 520.6h6v6h-6zM414.7 518.9h6v6h-6zM419.7 518.1h6v6h-6zM423 518h6v6h-6zM425.1 518.1h6v6h-6zM425.1 513.1h6v6h-6zM429.2 508.2h6v6h-6zM429 508h6v6h-6zM442.9 500.5h6v6h-6zM464.9 499.8h6v6h-6zM478.5 496.8h6v6h-6zM478.5 489.4h6v6h-6zM495.7 480.9h6v6h-6zM501.6 467.1h6v6h-6zM550.3 454.1h6v6h-6zM597 439.2h6v6h-6z" fill="none" stroke="#ff0000" stroke-width="1.25"/><line x1="348.2" y1="553.2" x2="603.4" y2="435.9" stroke="#2c8ad2" stroke-width="1.2"/><path d="M348.2 435.9H603.4V553.2H348.2Z" stroke="#4a4a4a" stroke-width="1.4" fill="none"/><path d="M417.17 553.2v-2.6M417.17 435.9v2.6M486.15 553.2v-2.6M486.15 435.9v2.6M555.12 553.2v-2.6M555.12 435.9v2.6M348.2 521.5h2.6M603.4 521.5h-2.6M348.2 489.79h2.6M603.4 489.79h-2.6M348.2 458.09h2.6M603.4 458.09h-2.6" stroke="#333" stroke-width="1" fill="none"/><text x="348.2" y="575.9" font-size="16" text-anchor="middle">0</text><text x="417.17" y="575.9" font-size="16" text-anchor="middle">200</text><text x="486.15" y="575.9" font-size="16" text-anchor="middle">400</text><text x="555.12" y="575.9" font-size="16" text-anchor="middle">600</text><text x="342.2" y="560" font-size="16" text-anchor="end">0</text><text x="342.2" y="528.3" font-size="16" text-anchor="end">200</text><text x="342.2" y="496.59" font-size="16" text-anchor="end">400</text><text x="342.2" y="464.89" font-size="16" text-anchor="end">600</text><text x="360.6" y="454.4" font-size="16">(H)</text></g>
<g><path d="M74.6 697.7a3.6 3.6 0 1 0 7.2 0a3.6 3.6 0 1 0 -7.2 0M74.6 688.2a3.6 3.6 0 1 0 7.2 0a3.6 3.6 0 1 0 -7.2 0M80 681.4a3.6 3.6 0 1 0 7.2 0a3.6 3.6 0 1 0 -7.2 0M84.6 680a3.6 3.6 0 1 0 7.2 0a3.6 3.6 0 1 0 -7.2 0M87.8 679.5a3.6 3.6 0 1 0 7.2 0a3.6 3.6 0 1 0 -7.2 0M93.7 676.8a3.6 3.6 0 1 0 7.2 0a3.6 3.6 0 1 0 -7.2 0M95.5 675.9a3.6 3.6 0 1 0 7.2 0a3.6 3.6 0 1 0 -7.2 0M98.2 673.2a3.6 3.6 0 1 0 7.2 0a3.6 3.6 0 1 0 -7.2 0M99.6 671.8a3.6 3.6 0 1 0 7.2 0a3.6 3.6 0 1 0 -7.2 0M104.6 665a3.6 3.6 0 1 0 7.2 0a3.6 3.6 0 1 0 -7.2 0M106.9 664.1a3.6 3.6 0 1 0 7.2 0a3.6 3.6 0 1 0 -7.2 0M109.1 664.1a3.6 3.6 0 1 0 7.2 0a3.6 3.6 0 1 0 -7.2 0M111.4 663.6a3.6 3.6 0 1 0 7.2 0a3.6 3.6 0 1 0 -7.2 0M113.7 663.6a3.6 3.6 0 1 0 7.2 0a3.6 3.6 0 1 0 -7.2 0M125.8 661.6a3.6 3.6 0 1 0 7.2 0a3.6 3.6 0 1 0 -7.2 0M131 660.1a3.6 3.6 0 1 0 7.2 0a3.6 3.6 0 1 0 -7.2 0M139 658.8a3.6 3.6 0 1 0 7.2 0a3.6 3.6 0 1 0 -7.2 0M145 652.4a3.6 3.6 0 1 0 7.2 0a3.6 3.6 0 1 0 -7.2 0M183.7 652.8a3.6 3.6 0 1 0 7.2 0a3.6 3.6 0 1 0 -7.2 0M200.8 647.3a3.6 3.6 0 1 0 7.2 0a3.6 3.6 0 1 0 -7.2 0M231.5 640.3a3.6 3.6 0 1 0 7.2 0a3.6 3.6 0 1 0 -7.2 0M254.3 634.3a3.6 3.6 0 1 0 7.2 0a3.6 3.6 0 1 0 -7.2 0M288 626.4a3.6 3.6 0 1 0 7.2 0a3.6 3.6 0 1 0 -7.2 0" fill="none" stroke="#0000ff" stroke-width="1.3"/><path d="M74.7 687.9h6v6h-6zM75.5 688.5h6v6h-6zM80.6 686.5h6v6h-6zM85.2 686.5h6v6h-6zM89.7 686.1h6v6h-6zM94.3 683.8h6v6h-6zM98.4 682.5h6v6h-6zM101.5 681.1h6v6h-6zM105.2 679.3h6v6h-6zM105.2 675.6h6v6h-6zM104.3 669.3h6v6h-6zM107 669.3h6v6h-6zM109.7 668.8h6v6h-6zM112.5 668.8h6v6h-6zM114.7 668.8h6v6h-6zM127.1 664.5h6v6h-6zM131.6 663h6v6h-6zM139.6 661h6v6h-6zM145.6 649.1h6v6h-6zM184.3 649.1h6v6h-6zM201.4 638.4h6v6h-6zM232.1 621.2h6v6h-6zM254.9 605.1h6v6h-6zM288.6 585.5h6v6h-6z" fill="none" stroke="#ff0000" stroke-width="1.25"/><line x1="55.7" y1="704.3" x2="305.3" y2="586.1" stroke="#2c8ad2" stroke-width="1.2"/><path d="M55.7 586.1H305.3V704.3H55.7Z" stroke="#4a4a4a" stroke-width="1.4" fill="none"/><path d="M107.92 704.3v-2.6M107.92 586.1v2.6M160.14 704.3v-2.6M160.14 586.1v2.6M212.35 704.3v-2.6M212.35 586.1v2.6M264.57 704.3v-2.6M264.57 586.1v2.6M55.7 654.84h2.6M305.3 654.84h-2.6M55.7 605.39h2.6M305.3 605.39h-2.6" stroke="#333" stroke-width="1" fill="none"/><text x="55.7" y="727" font-size="16" text-anchor="middle">0</text><text x="107.92" y="727" font-size="16" text-anchor="middle">100</text><rect x="95.08" y="724.47" width="3.23" height="3.23" fill="#fff"/><rect x="100.50" y="724.47" width="3.02" height="3.23" fill="#fff"/><text x="160.14" y="727" font-size="16" text-anchor="middle">200</text><text x="212.35" y="727" font-size="16" text-anchor="middle">300</text><text x="264.57" y="727" font-size="16" text-anchor="middle">400</text><text x="49.7" y="711.1" font-size="16" text-anchor="end">0</text><text x="49.7" y="661.64" font-size="16" text-anchor="end">200</text><text x="49.7" y="612.19" font-size="16" text-anchor="end">400</text><text x="68.6" y="605" font-size="16">(I)</text></g>
<g><path d="M387.8 669.8a3.6 3.6 0 1 0 7.2 0a3.6 3.6 0 1 0 -7.2 0M388.7 657.1a3.6 3.6 0 1 0 7.2 0a3.6 3.6 0 1 0 -7.2 0M394.7 654.9a3.6 3.6 0 1 0 7.2 0a3.6 3.6 0 1 0 -7.2 0M402.1 650.7a3.6 3.6 0 1 0 7.2 0a3.6 3.6 0 1 0 -7.2 0M403.2 650.1a3.6 3.6 0 1 0 7.2 0a3.6 3.6 0 1 0 -7.2 0M410.2 650.1a3.6 3.6 0 1 0 7.2 0a3.6 3.6 0 1 0 -7.2 0M422.4 644.6a3.6 3.6 0 1 0 7.2 0a3.6 3.6 0 1 0 -7.2 0M423.1 639.3a3.6 3.6 0 1 0 7.2 0a3.6 3.6 0 1 0 -7.2 0M423.8 634.1a3.6 3.6 0 1 0 7.2 0a3.6 3.6 0 1 0 -7.2 0M424.6 629.7a3.6 3.6 0 1 0 7.2 0a3.6 3.6 0 1 0 -7.2 0M441 629.3a3.6 3.6 0 1 0 7.2 0a3.6 3.6 0 1 0 -7.2 0M443.5 626.7a3.6 3.6 0 1 0 7.2 0a3.6 3.6 0 1 0 -7.2 0M445.4 624.4a3.6 3.6 0 1 0 7.2 0a3.6 3.6 0 1 0 -7.2 0M447.2 621.5a3.6 3.6 0 1 0 7.2 0a3.6 3.6 0 1 0 -7.2 0M449 619.5a3.6 3.6 0 1 0 7.2 0a3.6 3.6 0 1 0 -7.2 0M452.4 618a3.6 3.6 0 1 0 7.2 0a3.6 3.6 0 1 0 -7.2 0M460.3 617a3.6 3.6 0 1 0 7.2 0a3.6 3.6 0 1 0 -7.2 0M462.1 617a3.6 3.6 0 1 0 7.2 0a3.6 3.6 0 1 0 -7.2 0M474 617a3.6 3.6 0 1 0 7.2 0a3.6 3.6 0 1 0 -7.2 0M475.5 616.3a3.6 3.6 0 1 0 7.2 0a3.6 3.6 0 1 0 -7.2 0M479.2 612.5a3.6 3.6 0 1 0 7.2 0a3.6 3.6 0 1 0 -7.2 0M482.7 611a3.6 3.6 0 1 0 7.2 0a3.6 3.6 0 1 0 -7.2 0M483.7 605.8a3.6 3.6 0 1 0 7.2 0a3.6 3.6 0 1 0 -7.2 0M484.4 602.1a3.6 3.6 0 1 0 7.2 0a3.6 3.6 0 1 0 -7.2 0M493.4 596.2a3.6 3.6 0 1 0 7.2 0a3.6 3.6 0 1 0 -7.2 0M500.1 596.2a3.6 3.6 0 1 0 7.2 0a3.6 3.6 0 1 0 -7.2 0M501.1 595.1a3.6 3.6 0 1 0 7.2 0a3.6 3.6 0 1 0 -7.2 0M510.9 591.3a3.6 3.6 0 1 0 7.2 0a3.6 3.6 0 1 0 -7.2 0" fill="none" stroke="#0000ff" stroke-width="1.3"/><path d="M388.4 680.9h6v6h-6zM389.3 676.9h6v6h-6zM395.3 676.9h6v6h-6zM403 673.5h6v6h-6zM403.8 673.3h6v6h-6zM410.8 672.7h6v6h-6zM423 669.8h6v6h-6zM423.3 665.4h6v6h-6zM424.4 659.4h6v6h-6zM425.2 657.5h6v6h-6zM441.6 657.9h6v6h-6zM444.5 655h6v6h-6zM446.8 652.7h6v6h-6zM449 650.5h6v6h-6zM451.2 648.3h6v6h-6zM461.6 647.5h6v6h-6zM463.9 647.5h6v6h-6zM475 647.5h6v6h-6zM478.8 644.5h6v6h-6zM482.5 643h6v6h-6zM483.5 637.1h6v6h-6zM483.8 641.5h6v6h-6zM484.3 633.3h6v6h-6zM494 629.9h6v6h-6zM501.1 630.4h6v6h-6zM511.5 625.9h6v6h-6z" fill="none" stroke="#ff0000" stroke-width="1.25"/><line x1="348.3" y1="703.3" x2="603.4" y2="588.1" stroke="#2c8ad2" stroke-width="1.2"/><path d="M348.3 588.1H603.4V703.3H348.3Z" stroke="#4a4a4a" stroke-width="1.4" fill="none"/><path d="M417.62 703.3v-2.6M417.62 588.1v2.6M486.94 703.3v-2.6M486.94 588.1v2.6M556.26 703.3v-2.6M556.26 588.1v2.6M348.3 672h2.6M603.4 672h-2.6M348.3 640.69h2.6M603.4 640.69h-2.6M348.3 609.39h2.6M603.4 609.39h-2.6" stroke="#333" stroke-width="1" fill="none"/><text x="348.3" y="726" font-size="16" text-anchor="middle">0</text><text x="417.62" y="726" font-size="16" text-anchor="middle">100</text><rect x="404.78" y="723.47" width="3.23" height="3.23" fill="#fff"/><rect x="410.20" y="723.47" width="3.02" height="3.23" fill="#fff"/><text x="486.94" y="726" font-size="16" text-anchor="middle">200</text><text x="556.26" y="726" font-size="16" text-anchor="middle">300</text><text x="342.3" y="710.1" font-size="16" text-anchor="end">0</text><text x="342.3" y="678.8" font-size="16" text-anchor="end">100</text><rect x="316.11" y="676.26" width="3.23" height="3.23" fill="#fff"/><rect x="321.53" y="676.26" width="3.02" height="3.23" fill="#fff"/><text x="342.3" y="647.49" font-size="16" text-anchor="end">200</text><text x="342.3" y="616.19" font-size="16" text-anchor="end">300</text><text x="360.9" y="606.6" font-size="16">(J)</text></g>
<circle cx="238.2" cy="79.5" r="4.0" fill="none" stroke="#0000ff" stroke-width="1.3"/>
<rect x="235.2" y="95.3" width="6.0" height="6.0" fill="none" stroke="#ff0000" stroke-width="1.25"/>
<text x="262.5" y="84.3" font-size="14">NCEP</text>
<text x="262.5" y="103.7" font-size="14">SD</text>
<text x="175" y="751.9" font-size="17.9">Observed monthly precipitation, mm</text>
<text transform="translate(12.4,544.9) rotate(-90)" x="0" y="0" font-size="17.97">NCEP / Downscaled monthly precipitation, mm</text>
</svg></body></html>
